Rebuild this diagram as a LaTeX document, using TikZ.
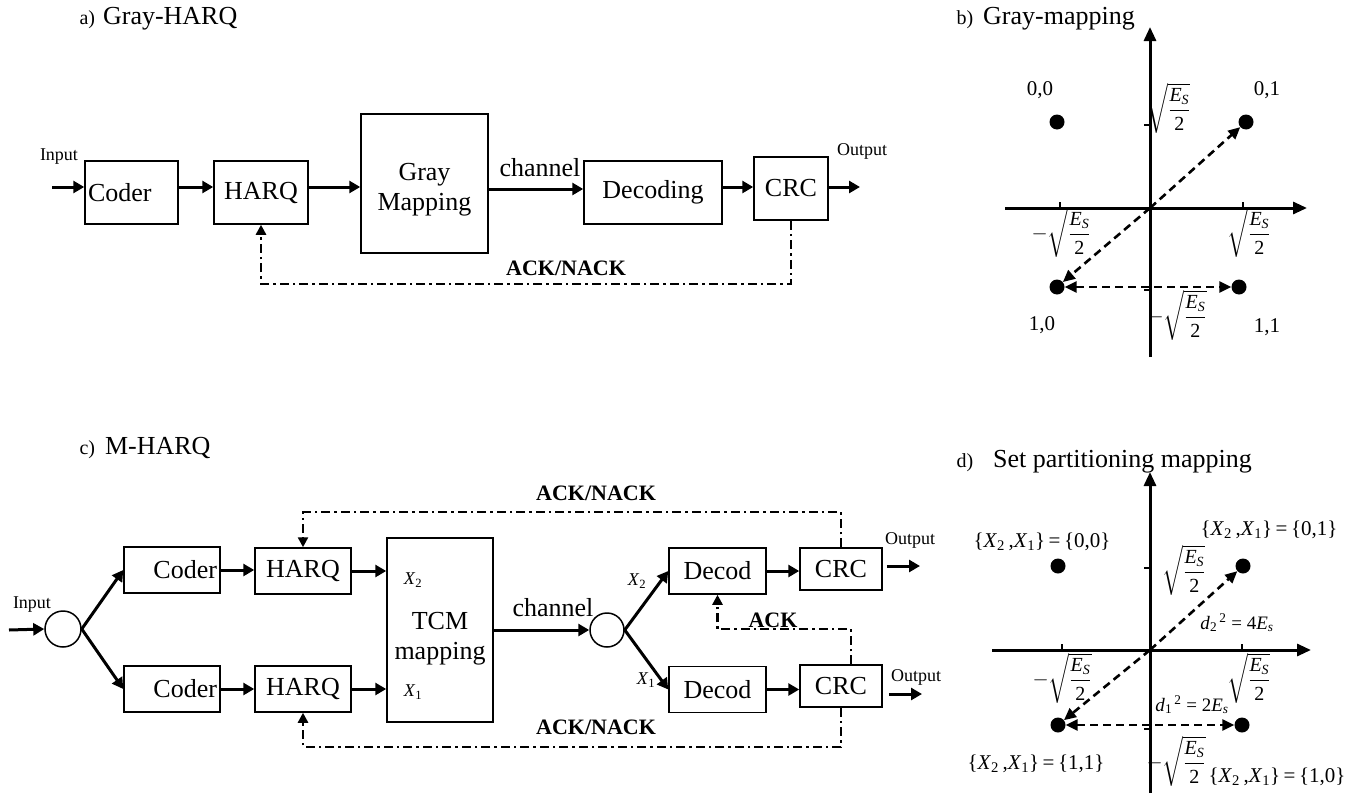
\documentclass[tikz,border=0pt]{standalone}
\usepackage{amsmath}
\usepackage{fontspec}
\setmainfont{Liberation Serif}
\usetikzlibrary{positioning,arrows.meta}

\newcommand{\bxfont}{\fontsize{26}{30}\selectfont}
\newcommand{\smfont}{\fontsize{18}{20}\selectfont}
\newcommand{\ttlfont}{\fontsize{20}{22}\selectfont}
\newcommand{\mthfont}{\fontsize{20}{23}\selectfont}
\newcommand{\rootES}{\sqrt{\dfrac{\textit{E}_{\textit{S}}}{\text{2}}}}
\newcommand{\pairX}[1]{\{\textit{X}\textsubscript{2}\,,\textit{X}\textsubscript{1}\}\,=\,\{#1\}}

\begin{document}
\begin{tikzpicture}[x=1pt,y=-1pt,
    blk/.style={draw, line width=1.5pt, inner sep=0pt, font=\bxfont},
    arr/.style={line width=3pt, -{Triangle[length=11pt,width=12pt]}},
    fb/.style={line width=2.4pt, dash pattern=on 9pt off 4pt on 2.5pt off 4pt, -{Triangle[length=10pt,width=10pt]}},
    fbl/.style={font=\fontsize{22}{24}\selectfont\bfseries},
    ax/.style={line width=3pt, -{Triangle[length=14pt,width=12pt]}},
    dsh/.style={line width=2.6pt, dash pattern=on 8pt off 5pt, -{Triangle[length=12pt,width=11pt]}},
    dot/.style={circle, fill, inner sep=0pt, minimum size=15pt},
    sum/.style={circle, draw, line width=1.5pt, inner sep=0pt}]
\useasboundingbox (0,0) rectangle (1358,798);

% a) Gray-HARQ
\node[anchor=base west] (ttlA) at (76,24) {\ttlfont a)\hspace{8pt}\bxfont Gray-HARQ};
\coordinate (rowA) at (0,187);
\coordinate (chrowA) at (0,189);
\node[blk, minimum width=93pt, minimum height=63pt, text width=87pt, align=left] (coderA) at (131.5,192.5) {Coder};
\node[blk, minimum width=94pt, minimum height=63pt] (harqA) at (261,192.5) {HARQ};
\node[blk, minimum width=127pt, minimum height=139pt, align=center, text height=60pt] (grayA) at (424.5,183.5) {Gray\\Mapping};
\node[blk, minimum width=138pt, minimum height=63pt] (decA) at (653,192.5) {Decoding};
\node[blk, minimum width=74pt, minimum height=63pt] (crcA) at (791,188.5) {CRC};
\node[font=\smfont] (inlA) at (59,157) {Input};
\node[font=\smfont] (outlA) at (862,151) {Output};
\node[font=\bxfont] (chA) at (540,168) {channel};
\node[fbl] (ackA) at (566,268) {ACK/NACK};
\coordinate (inA) at (52,187);
\coordinate (outA) at (860,187);
\draw[arr] (inA) -- (coderA.west |- rowA);
\draw[arr] (coderA.east |- rowA) -- (harqA.west |- rowA);
\draw[arr] (harqA.east |- rowA) -- (grayA.west |- rowA);
\draw[arr] (grayA.east |- chrowA) -- (decA.west |- chrowA);
\draw[arr] (decA.east |- rowA) -- (crcA.west |- rowA);
\draw[arr] (crcA.east |- rowA) -- (outA);
\draw[fb] (crcA.south) -- ++(0,63) -| (harqA.south);

% b) Gray-mapping
\node[anchor=base west] (ttlB) at (953,24) {\ttlfont b)\hspace{10pt}\bxfont Gray-mapping};
\coordinate (oB) at (1150,208);
\coordinate (xlB) at (1005,208);
\coordinate (xrB) at (1307,208);
\coordinate (ybB) at (1150,357);
\coordinate (ytB) at (1150,27);
\draw[ax] (xlB) -- (xrB);
\draw[ax] (ybB) -- (ytB);
\foreach \tx in {1060,1243} \draw[line width=1.2pt] (\tx,208) -- ++(0,-6);
\foreach \ty in {125,290} \draw[line width=1.2pt] (1150,\ty) -- ++(-6,0);
\node[dot] (p00) at (1057,122) {};
\node[dot] (p01) at (1246,122) {};
\node[dot] (p10) at (1057,287) {};
\node[dot] (p11) at (1239,287) {};
\node[font=\fontsize{21}{23}\selectfont] (l00) at (1040,90) {0,0};
\node[font=\fontsize{21}{23}\selectfont] (l01) at (1267,90) {0,1};
\node[font=\fontsize{21}{23}\selectfont] (l10) at (1042,325) {1,0};
\node[font=\fontsize{21}{23}\selectfont] (l11) at (1267,327) {1,1};
\node[font=\mthfont, inner sep=0pt] (sqtB) at (1169,108) {$\rootES$};
\node[font=\mthfont, inner sep=0pt] (sqlB) at (1061,232) {$-\rootES$};
\node[font=\mthfont, inner sep=0pt] (sqrB) at (1249,232) {$\rootES$};
\node[font=\mthfont, inner sep=0pt] (sqbB) at (1177,315) {$-\rootES$};
\draw[dsh] (oB) -- (p01);
\draw[dsh] (oB) -- (p10);
\draw[dsh, {Triangle[length=12pt,width=11pt]}-{Triangle[length=12pt,width=11pt]}] (p10) -- (p11);

% c) M-HARQ
\node[anchor=base west] (ttlC) at (76,454) {\ttlfont c)\hspace{10pt}\bxfont M-HARQ};
\node[font=\smfont] (inlC) at (32,605) {Input};
\coordinate (inC) at (9,630);
\node[sum, minimum size=36pt] (splitC) at (63,629) {};
\node[blk, minimum width=96pt, minimum height=46pt, text width=90pt, align=right] (coderC2) at (172,570) {Coder};
\node[blk, minimum width=96pt, minimum height=46pt, text width=90pt, align=right] (coderC1) at (172,689) {Coder};
\node[blk, minimum width=96pt, minimum height=46pt] (harqC2) at (303,571) {HARQ};
\node[blk, minimum width=96pt, minimum height=46pt] (harqC1) at (303,689) {HARQ};
\node[blk, minimum width=106pt, minimum height=184pt, align=center, text height=64pt] (tcmC) at (440,630) {TCM\\mapping};
\node[font=\fontsize{18}{20}\selectfont] (x2C) at (413,580) {\textit{X}\textsubscript{2}};
\node[font=\fontsize{18}{20}\selectfont] (x1C) at (413,692) {\textit{X}\textsubscript{1}};
\node[font=\bxfont] (chC) at (553,608) {channel};
\node[sum, minimum size=34pt] (mergeC) at (607,630) {};
\node[font=\fontsize{18}{20}\selectfont] (x2D) at (637,581) {\textit{X}\textsubscript{2}};
\node[font=\fontsize{18}{20}\selectfont] (x1D) at (646,680) {\textit{X}\textsubscript{1}};
\node[blk, minimum width=97pt, minimum height=46pt] (decC2) at (717.5,571) {Decod};
\node[blk, minimum width=97pt, minimum height=46pt] (decC1) at (717.5,689.5) {Decod};
\node[blk, minimum width=82pt, minimum height=42pt] (crcC2) at (841,569) {CRC};
\node[blk, minimum width=82pt, minimum height=42pt] (crcC1) at (841,686) {CRC};
\node[font=\smfont] (outlC2) at (910,540) {Output};
\node[font=\smfont] (outlC1) at (916,677) {Output};
\node[fbl] (ackC2) at (596,493) {ACK/NACK};
\node[fbl] (ackC1) at (596,727) {ACK/NACK};
\node[fbl] (ackC) at (773,620) {ACK};
\coordinate (outC2) at (920,566);
\coordinate (outC1) at (922,694);
\draw[arr] (inC) -- (splitC.west);
\draw[arr] (splitC.east) -- (coderC2.west);
\draw[arr] (splitC.east) -- (coderC1.west);
\draw[arr] (coderC2.east) -- (coderC2.east -| harqC2.west);
\draw[arr] (coderC1.east) -- (coderC1.east -| harqC1.west);
\draw[arr] (harqC2.east) -- (harqC2.east -| tcmC.west);
\draw[arr] (harqC1.east) -- (harqC1.east -| tcmC.west);
\draw[arr] (tcmC.east) -- (mergeC.west);
\draw[arr] (mergeC.east) -- (decC2.west);
\draw[arr] (mergeC.east) -- (decC1.west);
\draw[arr] (decC2.east) -- (decC2.east -| crcC2.west);
\draw[arr] (decC1.east) -- (decC1.east -| crcC1.west);
\draw[arr] ([xshift=4pt]crcC2.east |- outC2) -- (outC2);
\draw[arr] ([xshift=6pt]crcC1.east |- outC1) -- (outC1);
\draw[fb] (crcC2.north) -- ++(0,-35) -| (harqC2.north);
\draw[fb] (crcC1.south) -- ++(0,39) -| (harqC1.south);
\draw[fb] ([xshift=10pt]crcC1.north) -- ++(0,-35) -| (decC2.south);

% d) Set partitioning mapping
\node[anchor=base west] (ttlD) at (953,467) {\ttlfont d)\hspace{20pt}\bxfont Set partitioning mapping};
\coordinate (oD) at (1150,650);
\coordinate (xlD) at (992,650);
\coordinate (xrD) at (1311,650);
\coordinate (ybD) at (1150,793);
\coordinate (ytD) at (1150,472);
\draw[ax] (xlD) -- (xrD);
\draw[ax] (ybD) -- (ytD);
\foreach \tx in {1062,1242} \draw[line width=1.2pt] (\tx,650) -- ++(0,-6);
\foreach \ty in {568,729} \draw[line width=1.2pt] (1150,\ty) -- ++(-6,0);
\node[dot] (q00) at (1058,566) {};
\node[dot] (q01) at (1243,566) {};
\node[dot] (q11) at (1058,725) {};
\node[dot] (q10) at (1242,725) {};
\node[font=\fontsize{21}{23}\selectfont] (m00) at (1042,542) {\pairX{0,0}};
\node[font=\fontsize{21}{23}\selectfont] (m01) at (1269,530) {\pairX{0,1}};
\node[font=\fontsize{21}{23}\selectfont] (m11) at (1036,764) {\pairX{1,1}};
\node[font=\fontsize{21}{23}\selectfont] (m10) at (1277,777) {\pairX{1,0}};
\node[font=\mthfont, inner sep=0pt] (sqtD) at (1184,570) {$\rootES$};
\node[font=\mthfont, inner sep=0pt] (sqlD) at (1062,678) {$-\rootES$};
\node[font=\mthfont, inner sep=0pt] (sqrD) at (1249,678) {$\rootES$};
\node[font=\mthfont, inner sep=0pt] (sqbD) at (1176,761) {$-\rootES$};
\node[font=\fontsize{19}{22}\selectfont] (d2D) at (1237,623) {\textit{d}\textsubscript{2}\textsuperscript{\,2} = 4\textit{E}\textsubscript{\textit{s}}};
\node[font=\fontsize{19}{22}\selectfont, inner sep=1pt] (d1D) at (1192,705) {\textit{d}\textsubscript{1}\textsuperscript{\,2} = 2\textit{E}\textsubscript{\textit{s}}};
\draw[dsh] (oD) -- (q01);
\draw[dsh] (oD) -- (q11);
\draw[dsh, {Triangle[length=12pt,width=11pt]}-{Triangle[length=12pt,width=11pt]}] (q11) -- (q10);
\end{tikzpicture}
\end{document}
